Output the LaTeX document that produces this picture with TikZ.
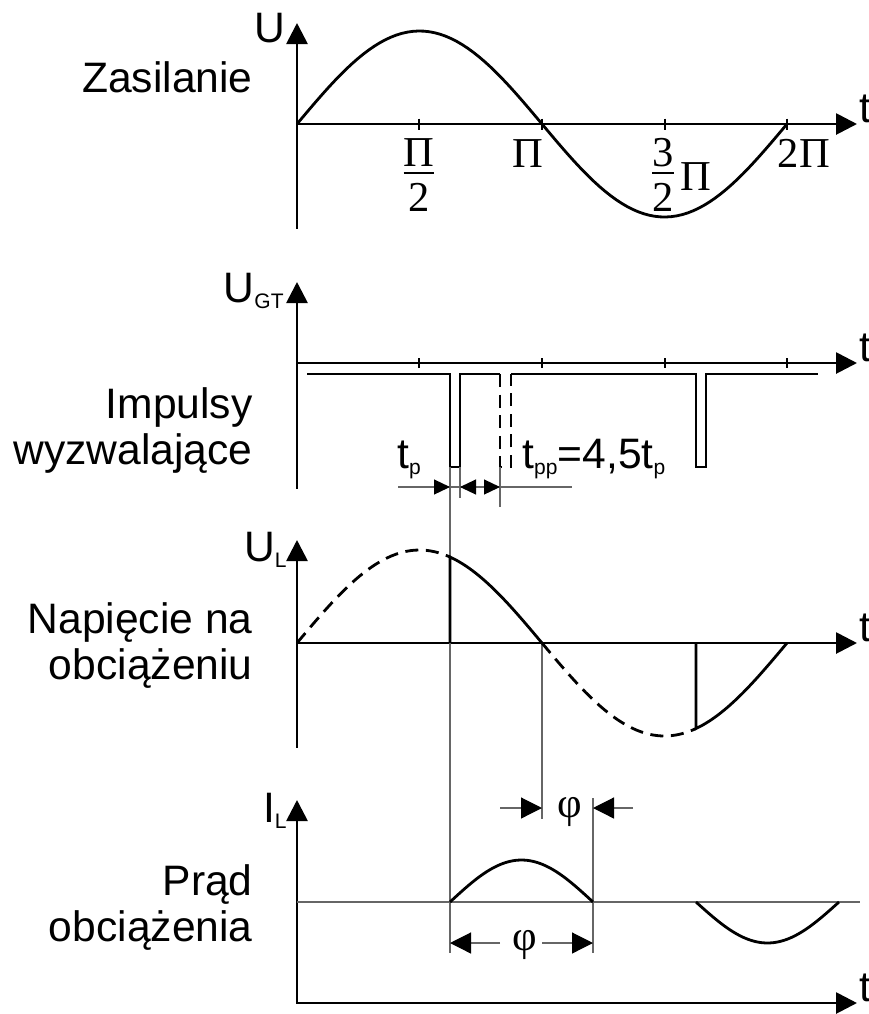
\documentclass[tikz,border=0pt]{standalone}
\usepackage{fontspec}
\setmainfont{Liberation Sans}
\newfontfamily\szeryf{Liberation Serif}
\usetikzlibrary{arrows.meta}

% indeks dolny i ułamek
\newcommand{\indeks}[1]{\raisebox{-3pt}{\fontsize{10.5}{12}\selectfont #1}}
\newcommand{\ulamek}[2]{\begin{tabular}{@{}c@{}}#1\\[-3.9pt]\hline\rule{0pt}{18.7pt}#2\end{tabular}}
\setlength{\arrayrulewidth}{0.9pt}

\tikzset{
  os/.style={line width=1.4pt, line cap=rect, -{Triangle[length=10.5pt,width=10.5pt]}},
  fala/.style={line width=1.4pt},
  kreski/.style={dash pattern=on 6.5pt off 3.8pt},
  cienka/.style={line width=0.6pt, black!60},
  wym/.style={cienka, -{Triangle[length=8pt,width=7.5pt,color=black]}},
  wymfi/.style={cienka, -{Triangle[length=10.5pt,width=10.5pt,color=black]}},
  opis/.style={anchor=east, align=right, inner sep=0pt, font=\fontsize{21.3}{23}\selectfont},
  etyk/.style={inner sep=0pt, font=\fontsize{21.3}{25}\selectfont},
  szer/.style={inner sep=0pt, font=\szeryf\fontsize{21.3}{23}\selectfont},
}

\begin{document}
\begin{tikzpicture}[x=0.5pt, y=-0.5pt]
    \useasboundingbox (0,0) rectangle (869,1014);

    % 四个坐标系
    \foreach \g/\o/\d [count=\i] in {23/124/228, 282/363/488, 540/643/747, 800/1003/1003} {
        \coordinate (G\i) at (297,\g);
        \coordinate (O\i) at (297,\o);
        \coordinate (D\i) at (297,\d);
        \coordinate (T\i) at (857,\o);
        \draw[os] (D\i) -- (G\i);
        \draw[os] (O\i) -- (T\i);
        \node[etyk, anchor=base west] (t\i) at (859,\o-2) {t};
    }

    % 刻度
    \foreach \x in {419,542,665,787} {
        \draw[line width=1pt] (\x,118.5) -- (\x,129.5);
        \draw[line width=1pt] (\x,358) -- (\x,368);
    }

    % 坐标轴标注
    \node[etyk, anchor=base east] (U1) at (286,42) {U};
    \node[etyk, anchor=base east] (U2) at (284,302) {U\indeks{GT}};
    \node[etyk, anchor=base east] (U3) at (287,561) {U\indeks{L}};
    \node[etyk, anchor=base east] (I4) at (287,822) {I\indeks{L}};

    % 左侧文字
    \node[opis, anchor=base east] (zas) at (253,92) {Zasilanie};
    \node[opis] (imp) at (253,430) {Impulsy\\wyzwalające};
    \node[opis] (nap) at (253,645) {Napięcie na\\obciążeniu};
    \node[opis] (prad) at (253,907) {Prąd\\obciążenia};

    % 电源正弦波
    \draw[fala] plot[domain=0:360, samples=90] ({297+\x/360*490},{124-93*sin(\x)});
    \node[szer, anchor=base] (pol) at (419,190) {\ulamek{Π}{2}};
    \node[szer, anchor=base] (pi) at (528,167) {Π};
    \node[szer, anchor=base west] (trzypol) at (652,190) {\ulamek{3}{2}\,Π};
    \node[szer, anchor=base] (dwapi) at (804,167) {2Π};

    % 触发脉冲
    \draw[fala] (307,374) -- (450,374) -- (450,467) -- (460,467) -- (460,374) -- (500,374);
    \draw[fala, kreski] (500,374) -- (500,467) -- (511,467) -- (511,374);
    \draw[fala] (511,374) -- (696,374) -- (696,467) -- (706,467) -- (706,374) -- (818,374);

    % 辅助细线
    \coordinate (k1g) at (450,467);
    \coordinate (k1d) at (450,953);
    \coordinate (k2g) at (460,467);
    \coordinate (k2d) at (460,498);
    \coordinate (k3g) at (500,467);
    \coordinate (k3d) at (500,507);
    \coordinate (k4g) at (542,643);
    \coordinate (k4d) at (542,819);
    \coordinate (k5g) at (593,798);
    \coordinate (k5d) at (593,953);
    \draw[cienka] (k1g) -- (k1d);
    \draw[cienka] (k2g) -- (k2d);
    \draw[cienka] (k3g) -- (k3d);
    \draw[cienka] (k4g) -- (k4d);
    \draw[cienka] (k5g) -- (k5d);

    % t_p 尺寸
    \coordinate (tpL) at (398,487);
    \coordinate (tpP) at (572,487);
    \coordinate (tpA) at (450,487);
    \coordinate (tpB) at (460,487);
    \coordinate (tpC) at (500,487);
    \coordinate (tpM) at (480,487);
    \draw[cienka] (tpL) -- (tpP);
    \draw[wym] (tpL) -- (tpA);
    \draw[wym] (tpM) -- (tpB);
    \draw[wym] (tpM) -- (tpC);
    \node[etyk, anchor=base west] (tp) at (397,468) {t\indeks{p}};
    \node[etyk, anchor=base west] (tpp) at (522,468) {t\indeks{pp}=4,5t\indeks{p}};

    % 负载电压
    \draw[fala, kreski] plot[domain=0:112.4, samples=40] ({297+\x/360*490},{643-93*sin(\x)});
    \draw[fala, kreski] plot[domain=180:293.1, samples=40] ({297+\x/360*490},{643-93*sin(\x)});
    \draw[fala] (450,643) -- plot[domain=112.4:180, samples=30] ({297+\x/360*490},{643-93*sin(\x)});
    \draw[fala] (696,643) -- plot[domain=293.1:360, samples=30] ({297+\x/360*490},{643-93*sin(\x)});

    % 负载电流
    \coordinate (Z4) at (297,902);
    \coordinate (Z4k) at (860,902);
    \draw[cienka] (Z4) -- (Z4k);
    \draw[fala] plot[domain=0:180, samples=40] ({450+\x/180*143},{902-42*sin(\x)});
    \draw[fala] plot[domain=0:180, samples=40] ({696+\x/180*143},{902+41*sin(\x)});

    % φ 尺寸
    \coordinate (fA0) at (500,808);
    \coordinate (fA) at (542,808);
    \coordinate (fB0) at (633,808);
    \coordinate (fB) at (593,808);
    \draw[wymfi] (fA0) -- (fA);
    \draw[wymfi] (fB0) -- (fB);
    \node[szer] (fi1) at (570,812) {φ};
    \coordinate (gA0) at (500,943);
    \coordinate (gA) at (450,943);
    \coordinate (gB0) at (542,943);
    \coordinate (gB) at (593,943);
    \draw[wymfi] (gA0) -- (gA);
    \draw[wymfi] (gB0) -- (gB);
    \node[szer] (fi2) at (525,945) {φ};
\end{tikzpicture}
\end{document}
